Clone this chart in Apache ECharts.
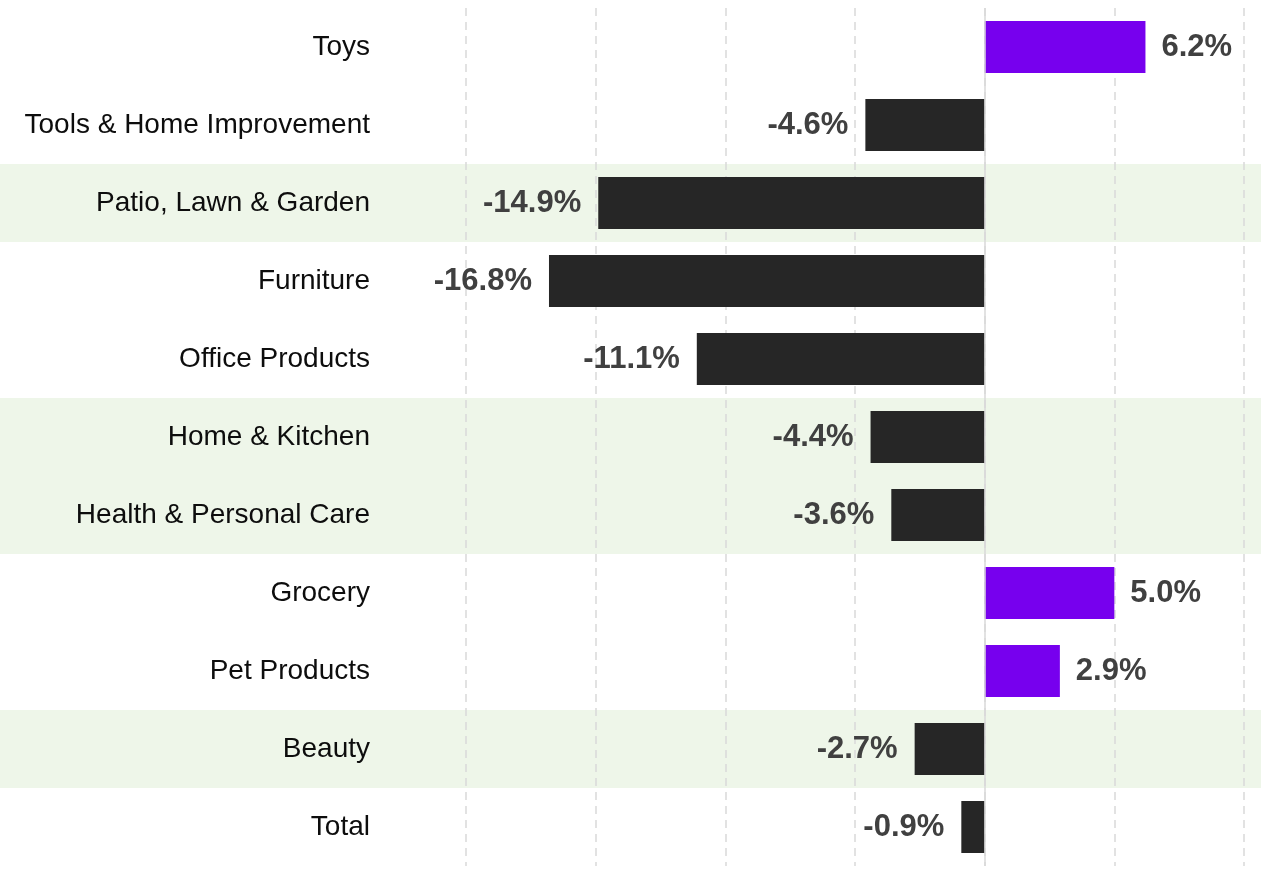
<!DOCTYPE html>
<html>
<head>
<meta charset="utf-8">
<script src="https://cdn.jsdelivr.net/npm/echarts@6/dist/echarts.min.js"></script>
<style>
  html, body { margin: 0; padding: 0; background: #fff; }
  #chart { width: 1261px; height: 869px; }
</style>
</head>
<body>
<div id="chart"></div>
<script>
// categories, top to bottom
const categories = [
  'Toys', 'Tools & Home Improvement', 'Patio, Lawn & Garden', 'Furniture',
  'Office Products', 'Home & Kitchen', 'Health & Personal Care', 'Grocery',
  'Pet Products', 'Beauty', 'Total'
];
// growth, %
const growth = [6.2, -4.6, -14.9, -16.8, -11.1, -4.4, -3.6, 5.0, 2.9, -2.7, -0.9];
// rows with green background
const highlighted = [0, 0, 1, 0, 0, 1, 1, 0, 0, 1, 0];

const purple = '#7700ee';
const dark = '#262626';
const band = '#eef6e9';
const font = 'Liberation Sans';

const myChart = echarts.init(document.getElementById('chart'));

myChart.setOption({
  animation: false,
  textStyle: {fontFamily: font},
  grid: [
    {left: 466, right: 17, top: 8, height: 858},
    {left: 0, right: 0, top: 8, height: 858}
  ],
  xAxis: [
    {
      type: 'value', gridIndex: 0, min: -20, max: 10, interval: 5, z: 1,
      axisLabel: {show: false}, axisLine: {show: false}, axisTick: {show: false},
      splitLine: {show: true, lineStyle: {color: '#d9d9d9', width: 1.5, type: [8, 6]}}
    },
    {type: 'value', gridIndex: 1, min: 0, max: 1, show: false}
  ],
  yAxis: [
    {
      type: 'category', gridIndex: 0, data: categories, inverse: true, z: 1,
      axisLine: {show: false}, axisTick: {show: false},
      axisLabel: {margin: 96, fontSize: 28, color: '#0d0d0d', fontFamily: font, padding: [6, 0, 0, 0]}
    },
    {type: 'category', gridIndex: 1, data: categories, inverse: true, show: false}
  ],
  series: [
    {
      // background bands
      type: 'bar', xAxisIndex: 1, yAxisIndex: 1, z: 0, silent: true,
      barWidth: '100%', itemStyle: {color: band},
      data: highlighted
    },
    {
      type: 'bar', xAxisIndex: 0, yAxisIndex: 0, z: 2,
      barWidth: 52,
      data: growth.map(v => ({
        value: v,
        itemStyle: {color: v >= 0 ? purple : dark},
        label: {position: v >= 0 ? 'right' : 'left', distance: v >= 0 ? 16 : 17}
      })),
      label: {
        show: true, fontSize: 31, fontWeight: 'bold',
        color: '#404040', fontFamily: font, padding: [5, 0, 0, 0],
        formatter: p => p.value.toFixed(1) + '%'
      },
      markLine: {
        silent: true, symbol: 'none', label: {show: false},
        lineStyle: {color: '#d9d9d9', width: 1.5, type: 'solid'},
        data: [{xAxis: 0}]
      }
    }
  ]
});

window.onresize = function () {
  myChart.resize();
};
</script>
</body>
</html>
